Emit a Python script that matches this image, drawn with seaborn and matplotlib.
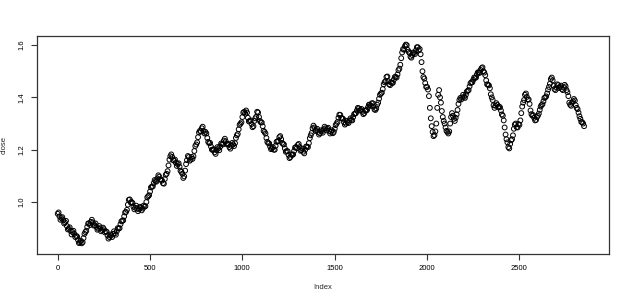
import numpy as np
import pandas as pd
import matplotlib
matplotlib.use("Agg")
import matplotlib.pyplot as plt
import seaborn as sns

close = [
    0.955, 0.960, 0.945, 0.932, 0.938, 0.942, 0.930, 0.918, 0.922, 0.928, 0.908, 0.895, 0.898, 0.903, 0.890, 0.876, 0.885, 0.890, 0.878, 0.866,
    0.870, 0.868, 0.855, 0.843, 0.846, 0.852, 0.842, 0.846, 0.862, 0.878, 0.885, 0.890, 0.905, 0.918, 0.918, 0.912, 0.924, 0.932, 0.922, 0.910,
    0.912, 0.918, 0.905, 0.894, 0.898, 0.908, 0.900, 0.888, 0.893, 0.902, 0.896, 0.884, 0.888, 0.886, 0.872, 0.860, 0.866, 0.876, 0.872, 0.866,
    0.878, 0.888, 0.880, 0.875, 0.888, 0.900, 0.898, 0.900, 0.915, 0.926, 0.928, 0.930, 0.945, 0.960, 0.962, 0.970, 0.990, 1.008, 1.010, 0.998,
    1.000, 0.996, 0.982, 0.972, 0.978, 0.986, 0.975, 0.965, 0.972, 0.982, 0.978, 0.968, 0.975, 0.986, 0.982, 0.984, 1.000, 1.018, 1.022, 1.026,
    1.040, 1.056, 1.058, 1.060, 1.072, 1.084, 1.080, 1.078, 1.090, 1.102, 1.097, 1.086, 1.085, 1.082, 1.072, 1.070, 1.088, 1.104, 1.108, 1.118,
    1.140, 1.162, 1.175, 1.182, 1.172, 1.160, 1.158, 1.162, 1.150, 1.138, 1.145, 1.148, 1.135, 1.120, 1.115, 1.108, 1.092, 1.098, 1.120, 1.145,
    1.160, 1.176, 1.172, 1.158, 1.162, 1.172, 1.165, 1.175, 1.195, 1.214, 1.220, 1.228, 1.248, 1.266, 1.272, 1.270, 1.282, 1.288, 1.272, 1.262,
    1.268, 1.262, 1.245, 1.230, 1.225, 1.226, 1.212, 1.200, 1.200, 1.202, 1.190, 1.184, 1.198, 1.210, 1.205, 1.198, 1.212, 1.224, 1.222, 1.220,
    1.235, 1.242, 1.232, 1.222, 1.220, 1.222, 1.210, 1.204, 1.215, 1.226, 1.220, 1.214, 1.225, 1.245, 1.255, 1.260, 1.278, 1.295, 1.300, 1.305,
    1.325, 1.342, 1.345, 1.338, 1.350, 1.342, 1.322, 1.308, 1.310, 1.312, 1.298, 1.286, 1.290, 1.310, 1.320, 1.326, 1.345, 1.342, 1.325, 1.310,
    1.305, 1.304, 1.290, 1.272, 1.268, 1.262, 1.245, 1.230, 1.225, 1.224, 1.212, 1.202, 1.205, 1.210, 1.200, 1.200, 1.215, 1.230, 1.232, 1.234,
    1.248, 1.252, 1.240, 1.226, 1.222, 1.220, 1.205, 1.192, 1.195, 1.194, 1.180, 1.168, 1.172, 1.182, 1.180, 1.182, 1.195, 1.208, 1.210, 1.206,
    1.218, 1.222, 1.210, 1.196, 1.198, 1.204, 1.192, 1.186, 1.200, 1.212, 1.212, 1.210, 1.225, 1.244, 1.255, 1.264, 1.282, 1.292, 1.285, 1.272,
    1.275, 1.280, 1.268, 1.258, 1.263, 1.274, 1.270, 1.265, 1.278, 1.288, 1.282, 1.274, 1.280, 1.284, 1.272, 1.262, 1.268, 1.274, 1.263, 1.268,
    1.280, 1.294, 1.300, 1.306, 1.322, 1.334, 1.333, 1.322, 1.320, 1.318, 1.305, 1.296, 1.300, 1.310, 1.305, 1.302, 1.312, 1.320, 1.314, 1.312,
    1.325, 1.336, 1.338, 1.340, 1.350, 1.360, 1.358, 1.350, 1.352, 1.356, 1.345, 1.336, 1.340, 1.350, 1.350, 1.352, 1.362, 1.372, 1.372, 1.368,
    1.377, 1.378, 1.365, 1.354, 1.352, 1.358, 1.372, 1.380, 1.395, 1.410, 1.415, 1.418, 1.432, 1.450, 1.458, 1.462, 1.478, 1.480, 1.462, 1.450,
    1.447, 1.458, 1.455, 1.456, 1.468, 1.478, 1.478, 1.476, 1.488, 1.504, 1.510, 1.525, 1.550, 1.572, 1.585, 1.582, 1.596, 1.602, 1.600, 1.582,
    1.575, 1.570, 1.556, 1.552, 1.562, 1.572, 1.570, 1.566, 1.580, 1.592, 1.592, 1.580, 1.585, 1.565, 1.535, 1.500, 1.478, 1.472, 1.455, 1.440,
    1.440, 1.430, 1.405, 1.360, 1.320, 1.290, 1.268, 1.252, 1.256, 1.270, 1.300, 1.360, 1.410, 1.428, 1.400, 1.380, 1.348, 1.325, 1.310, 1.300,
    1.285, 1.272, 1.268, 1.262, 1.270, 1.300, 1.325, 1.340, 1.330, 1.318, 1.310, 1.322, 1.335, 1.352, 1.375, 1.390, 1.398, 1.392, 1.400, 1.410,
    1.402, 1.398, 1.410, 1.422, 1.425, 1.428, 1.442, 1.454, 1.458, 1.458, 1.467, 1.476, 1.475, 1.476, 1.488, 1.496, 1.495, 1.494, 1.505, 1.512,
    1.515, 1.500, 1.495, 1.485, 1.465, 1.450, 1.448, 1.446, 1.435, 1.412, 1.400, 1.390, 1.370, 1.360, 1.368, 1.378, 1.372, 1.362, 1.365, 1.362,
    1.350, 1.335, 1.330, 1.312, 1.285, 1.258, 1.240, 1.228, 1.210, 1.205, 1.222, 1.236, 1.240, 1.255, 1.280, 1.296, 1.300, 1.286, 1.285, 1.298,
    1.295, 1.312, 1.340, 1.365, 1.380, 1.390, 1.410, 1.415, 1.402, 1.392, 1.392, 1.375, 1.350, 1.336, 1.330, 1.332, 1.322, 1.312, 1.314, 1.325,
    1.330, 1.338, 1.352, 1.365, 1.371, 1.374, 1.385, 1.398, 1.400, 1.404, 1.415, 1.430, 1.440, 1.452, 1.470, 1.476, 1.465, 1.445, 1.432, 1.428,
    1.438, 1.450, 1.447, 1.436, 1.440, 1.445, 1.432, 1.428, 1.438, 1.448, 1.442, 1.428, 1.420, 1.405, 1.380, 1.372, 1.368, 1.380, 1.385, 1.394,
    1.388, 1.370, 1.360, 1.355, 1.342, 1.328, 1.318, 1.306, 1.305, 1.300, 1.290,
]
step = 5
index = [1 + step * i for i in range(len(close))]

x_ticks = [0, 500, 1000, 1500, 2000, 2500]
y_ticks = [1.0, 1.2, 1.4, 1.6]

df = pd.DataFrame({"Index": index, "close": close})

sns.set_style("white")
plt.rcParams["font.family"] = ["Liberation Sans", "DejaVu Sans"]

fig = plt.figure(figsize=(6.25, 2.99), dpi=100)
ax = fig.add_axes([0.0592, 0.1495, 0.9152, 0.7311])

sns.scatterplot(data=df, x="Index", y="close", ax=ax, marker="o",
                s=12, facecolor="none", edgecolor="black", linewidth=0.7,
                legend=False)

ax.set_xlim(-111, 2986)
ax.set_ylim(0.80, 1.636)
ax.set_xticks(x_ticks)
ax.set_xticklabels([str(t) for t in x_ticks])
ax.set_yticks(y_ticks)
ax.set_yticklabels([f"{t:.1f}" for t in y_ticks], rotation=90, va="center")

for sp in ax.spines.values():
    sp.set_visible(True)
    sp.set_color("#333333")
    sp.set_linewidth(0.9)

ax.tick_params(axis="both", direction="out", length=4, width=0.8,
               colors="#333333", labelsize=5.5, labelcolor="black", pad=4,
               bottom=True, left=True)
ax.set_xlabel("Index", fontsize=5.5, labelpad=8)
ax.set_ylabel("close", fontsize=5.5, labelpad=8)

fig.savefig("out.png", dpi=100)
